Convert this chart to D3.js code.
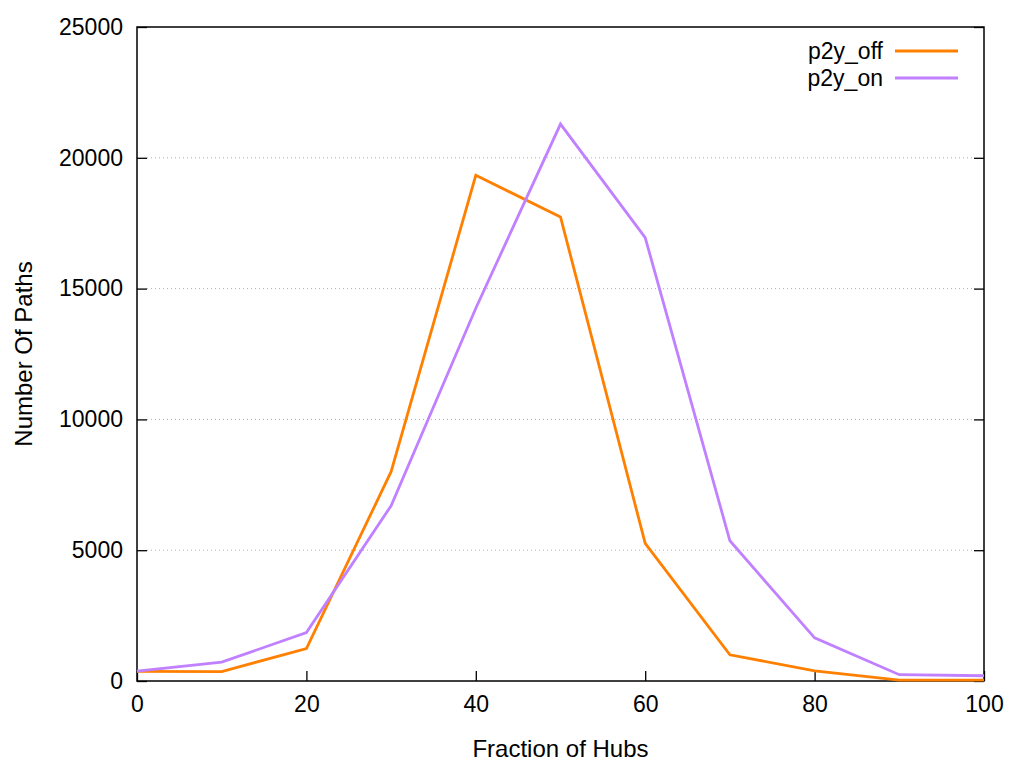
<!DOCTYPE html>
<html>
<head>
<meta charset="utf-8">
<script src="https://cdn.jsdelivr.net/npm/d3@7/dist/d3.min.js"></script>
<style>
  body { margin: 0; background: #fff; }
  svg text { font-family: "Liberation Sans", Arial, sans-serif; fill: #000; }
</style>
</head>
<body>
<div id="chart"></div>
<script>
// data
const hubs = [0, 10, 20, 30, 40, 50, 60, 70, 80, 90, 100];
const p2yOff = [370, 360, 1240, 8000, 19330, 17740, 5260, 1000, 390, 30, 30];
const p2yOn = [380, 720, 1850, 6700, 14250, 21290, 16950, 5360, 1650, 240, 200];
const xTicks = [0, 20, 40, 60, 80, 100];
const yTicks = [0, 5000, 10000, 15000, 20000, 25000];

const series = [
  { name: 'p2y_off', values: p2yOff, color: '#ff8000' },
  { name: 'p2y_on', values: p2yOn, color: '#c080ff' },
];

const w = 1024;
const h = 768;
const margins = { top: 27, right: 40, bottom: 87, left: 137 };

const svg = d3.select('#chart')
  .append('svg')
  .attr('width', w)
  .attr('height', h);

const x = d3.scaleLinear()
  .domain([0, 100])
  .range([margins.left, w - margins.right]);

const y = d3.scaleLinear()
  .domain([0, 25000])
  .range([h - margins.bottom, margins.top]);

const tickLen = 10;

// dotted grid at the inner y ticks
svg.append('g')
  .selectAll('line')
  .data(yTicks.filter(d => d > 0 && d < 25000))
  .enter()
  .append('line')
  .attr('x1', x(0) + tickLen)
  .attr('x2', x(100) - tickLen)
  .attr('y1', d => y(d))
  .attr('y2', d => y(d))
  .attr('stroke', '#b0b0b0')
  .attr('stroke-width', 1)
  .attr('stroke-dasharray', '1,3');

// axes: ticks point into the plot
const xAxis = svg.append('g')
  .attr('transform', `translate(0, ${y(0)})`)
  .call(d3.axisBottom(x).tickValues(xTicks).tickSize(-tickLen).tickPadding(15).tickFormat(d3.format('d')));

const yAxis = svg.append('g')
  .attr('transform', `translate(${x(0)}, 0)`)
  .call(d3.axisLeft(y).tickValues(yTicks).tickSize(-tickLen).tickPadding(14).tickFormat(d3.format('d')));

const yAxisRight = svg.append('g')
  .attr('transform', `translate(${x(100)}, 0)`)
  .call(d3.axisRight(y).tickValues(yTicks).tickSize(-tickLen).tickFormat(''));

[xAxis, yAxis, yAxisRight].forEach((g) => {
  g.select('.domain').remove();
  g.selectAll('.tick line').attr('stroke', '#000').attr('stroke-width', 1.3);
  g.selectAll('.tick text')
    .style('font-size', '23px')
    .style('font-family', '"Liberation Sans", Arial, sans-serif');
});

// frame
svg.append('rect')
  .attr('x', x(0))
  .attr('y', y(25000))
  .attr('width', x(100) - x(0))
  .attr('height', y(0) - y(25000))
  .attr('fill', 'none')
  .attr('stroke', '#000')
  .attr('stroke-width', 1.5);

// lines
const line = d3.line()
  .x((d, i) => x(hubs[i]))
  .y(d => y(d));

svg.append('g')
  .selectAll('path')
  .data(series)
  .enter()
  .append('path')
  .attr('d', d => line(d.values))
  .attr('fill', 'none')
  .attr('stroke', d => d.color)
  .attr('stroke-width', 2.8)
  .attr('stroke-linejoin', 'miter');

// legend
const legend = svg.append('g')
  .attr('transform', `translate(${x(100)}, 51)`);

const items = legend.selectAll('g')
  .data(series)
  .enter()
  .append('g')
  .attr('transform', (d, i) => `translate(0, ${i * 27})`);

items.append('line')
  .attr('x1', -89)
  .attr('x2', -26)
  .attr('y1', 0)
  .attr('y2', 0)
  .attr('stroke', d => d.color)
  .attr('stroke-width', 2.8);

items.append('text')
  .attr('x', -101)
  .attr('y', 8)
  .style('text-anchor', 'end')
  .style('font-size', '23px')
  .text(d => d.name);

// axis titles
svg.append('text')
  .attr('x', (x(0) + x(100)) / 2)
  .attr('y', 757)
  .style('text-anchor', 'middle')
  .style('font-size', '24px')
  .text('Fraction of Hubs');

svg.append('text')
  .attr('transform', `translate(32, ${(y(0) + y(25000)) / 2}) rotate(-90)`)
  .style('text-anchor', 'middle')
  .style('font-size', '24px')
  .text('Number Of Paths');
</script>
</body>
</html>
